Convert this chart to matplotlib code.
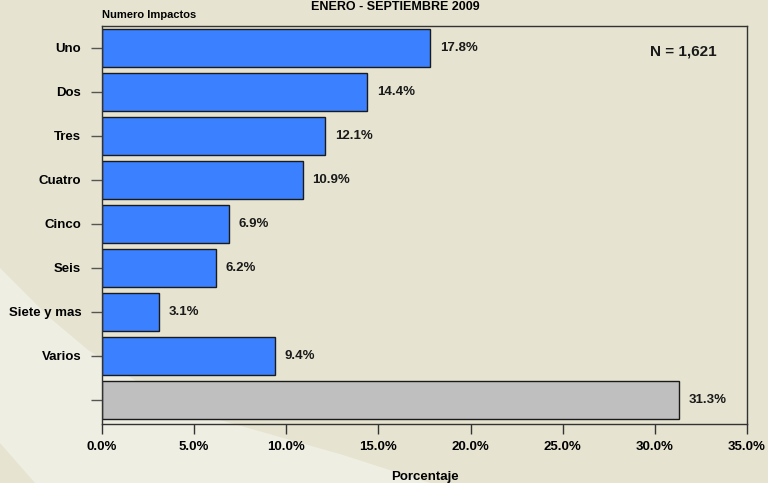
import numpy as np
import matplotlib.pyplot as plt
from matplotlib.patches import Polygon

# Data
categorias = ["Uno", "Dos", "Tres", "Cuatro", "Cinco", "Seis", "Siete y mas", "Varios", ""]
porcentajes = [17.8, 14.4, 12.1, 10.9, 6.9, 6.2, 3.1, 9.4, 31.3]
colores = ["#3a80ff"] * 8 + ["#bfbfbf"]
xticks = [0, 5, 10, 15, 20, 25, 30, 35]

plt.rcParams["font.family"] = ["Liberation Sans", "DejaVu Sans"]
plt.rcParams["font.weight"] = "bold"

W, H = 768, 483
fig = plt.figure(figsize=(W / 100, H / 100), dpi=100)
fig.patch.set_facecolor("#e6e4d0")

# decorative background waves (pixel coords -> figure fraction)
def px(points):
    return [(x / W, 1 - y / H) for x, y in points]

light = px([(0, 268), (15, 283), (50, 318), (88, 350), (150, 390), (220, 420),
            (343, 455), (430, 483), (0, 483)])
fig.patches.append(Polygon(light, closed=True, transform=fig.transFigure,
                           facecolor="#efeee3", edgecolor="none", zorder=-10))
dark = px([(0, 443), (35, 483), (0, 483)])
fig.patches.append(Polygon(dark, closed=True, transform=fig.transFigure,
                           facecolor="#e6e4d0", edgecolor="none", zorder=-9))

ax = fig.add_axes([102 / W, 1 - 424 / H, 645 / W, 398 / H])
ax.set_facecolor("none")

y = np.arange(len(categorias))
ax.barh(y, porcentajes, height=0.86, color=colores, edgecolor="#1a1a1a", linewidth=1)

for yi, v in zip(y, porcentajes):
    ax.annotate(f"{v:.1f}%", (v, yi), xytext=(7, 0), textcoords="offset points",
                va="center", ha="left", fontsize=9.5, fontweight="bold", color="#1a1a1a")

ax.set_xlim(0, 35)
ax.set_ylim(len(categorias) - 0.45, -0.5)
ax.set_xticks(xticks)
ax.set_xticklabels([f"{t:.1f}%" for t in xticks], fontsize=9.5, fontweight="bold")
ax.set_yticks(y)
ax.set_yticklabels(categorias, fontsize=9.5, fontweight="bold")
ax.tick_params(axis="x", length=7, width=1, color="#333333", pad=5)
ax.tick_params(axis="y", length=8, width=1, color="#555555", pad=7)

for s in ax.spines.values():
    s.set_color("#333333")
    s.set_linewidth(1)

ax.set_xlabel("Porcentaje", fontsize=9.5, fontweight="bold", labelpad=13)
ax.text(0.85, 0.935, "N = 1,621", transform=ax.transAxes, fontsize=11,
        fontweight="bold", va="center", ha="left", color="#1a1a1a")

fig.text(395 / W, 1 - 0.5 / H, "ENERO - SEPTIEMBRE 2009", ha="center", va="top",
         fontsize=9, fontweight="bold")
fig.text(102 / W, 1 - 15 / H, "Numero Impactos", ha="left", va="center",
         fontsize=8, fontweight="bold")

fig.savefig("out.png", dpi=100, facecolor=fig.get_facecolor())
